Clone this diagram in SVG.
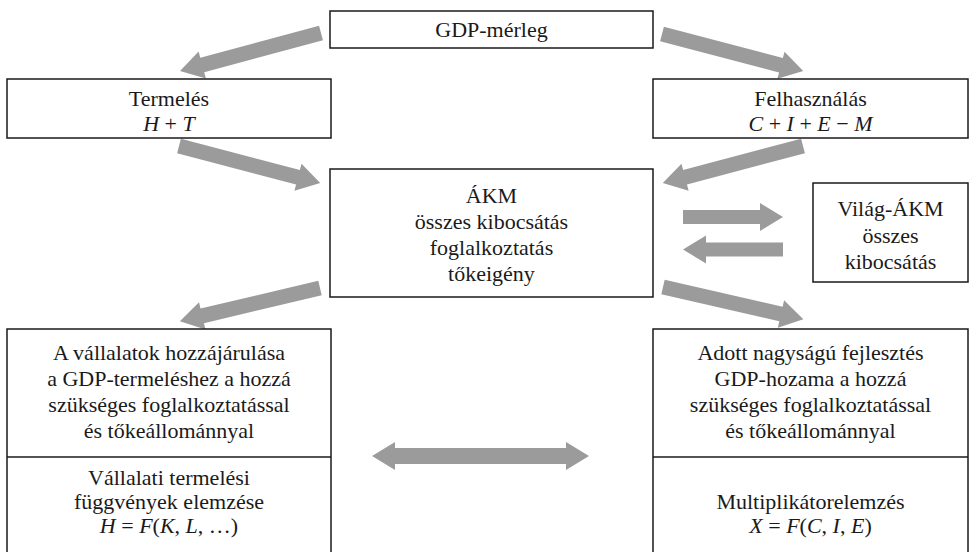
<svg xmlns="http://www.w3.org/2000/svg" width="969" height="552" viewBox="0 0 969 552">
<style>
.box{fill:#fff;stroke:#1a1a1a;stroke-width:1.5}
.t{font-family:"Liberation Serif","Times New Roman",serif;font-size:22px;fill:#1a1a1a;text-anchor:middle}
.i{font-style:italic}
.arr{fill:#9b9b9b}
</style>
<g id="connectors">
<polygon class="arr" points="0,-7.5 123,-7.5 123,-14 146,0 123,14 123,7.5 0,7.5" transform="translate(321,33) rotate(164.9)"/>
<polygon class="arr" points="0,-7.5 123,-7.5 123,-14 146,0 123,14 123,7.5 0,7.5" transform="translate(662,34) rotate(14.7)"/>
<polygon class="arr" points="0,-7.5 123,-7.5 123,-14 146,0 123,14 123,7.5 0,7.5" transform="translate(179,146) rotate(14.7)"/>
<polygon class="arr" points="0,-7.5 122,-7.5 122,-14 145,0 122,14 122,7.5 0,7.5" transform="translate(803,146) rotate(165.2)"/>
<polygon class="arr" points="0,-7.5 121,-7.5 121,-14 144,0 121,14 121,7.5 0,7.5" transform="translate(320,288) rotate(166.7)"/>
<polygon class="arr" points="0,-7.5 121,-7.5 121,-14 144,0 121,14 121,7.5 0,7.5" transform="translate(663,287) rotate(12.9)"/>
<polygon class="arr" points="683,210 760,210 760,203 783,217 760,231 760,224 683,224"/>
<polygon class="arr" points="783,242.5 706,242.5 706,235.5 683,249.5 706,263.5 706,256.5 783,256.5"/>
<polygon class="arr" points="372,456 395,442 395,448 566,448 566,442 589,456 566,470 566,464 395,464 395,470"/>
</g>
<g id="gdp">
<rect class="box" x="330" y="11" width="323" height="37"/>
<text class="t" x="491.5" y="37">GDP-mérleg</text>
</g>
<g id="termeles">
<rect class="box" x="7" y="79" width="324" height="59"/>
<text class="t" x="169" y="106">Termelés</text>
<text class="t" x="169" y="131"><tspan class="i">H</tspan> + <tspan class="i">T</tspan></text>
</g>
<g id="felhasznalas">
<rect class="box" x="653" y="79" width="315" height="59"/>
<text class="t" x="810.5" y="106">Felhasználás</text>
<text class="t" x="810.5" y="131"><tspan class="i">C</tspan> + <tspan class="i">I</tspan> + <tspan class="i">E</tspan> − <tspan class="i">M</tspan></text>
</g>
<g id="akm">
<rect class="box" x="330" y="169" width="323" height="128"/>
<text class="t" x="491.5" y="203">ÁKM</text>
<text class="t" x="491.5" y="229">összes kibocsátás</text>
<text class="t" x="491.5" y="255">foglalkoztatás</text>
<text class="t" x="491.5" y="281">tőkeigény</text>
</g>
<g id="vilag">
<rect class="box" x="813" y="183" width="155" height="99"/>
<text class="t" x="890.5" y="216">Világ-ÁKM</text>
<text class="t" x="890.5" y="243">összes</text>
<text class="t" x="890.5" y="269">kibocsátás</text>
</g>
<g id="vallalatok">
<rect class="box" x="7" y="329" width="324" height="240"/>
<line class="box" x1="7" y1="457" x2="331" y2="457"/>
<text class="t" x="169" y="360">A vállalatok hozzájárulása</text>
<text class="t" x="169" y="386">a GDP-termeléshez a hozzá</text>
<text class="t" x="169" y="412">szükséges foglalkoztatással</text>
<text class="t" x="169" y="438">és tőkeállománnyal</text>
<text class="t" x="169" y="485">Vállalati termelési</text>
<text class="t" x="169" y="509">függvények elemzése</text>
<text class="t" x="169" y="533"><tspan class="i">H</tspan> = <tspan class="i">F</tspan>(<tspan class="i">K</tspan>, <tspan class="i">L</tspan>, …)</text>
</g>
<g id="fejlesztes">
<rect class="box" x="653" y="329" width="315" height="240"/>
<line class="box" x1="653" y1="457" x2="968" y2="457"/>
<text class="t" x="810.5" y="360">Adott nagyságú fejlesztés</text>
<text class="t" x="810.5" y="386">GDP-hozama a hozzá</text>
<text class="t" x="810.5" y="412">szükséges foglalkoztatással</text>
<text class="t" x="810.5" y="438">és tőkeállománnyal</text>
<text class="t" x="810.5" y="509">Multiplikátorelemzés</text>
<text class="t" x="810.5" y="533"><tspan class="i">X</tspan> = <tspan class="i">F</tspan>(<tspan class="i">C</tspan>, <tspan class="i">I</tspan>, <tspan class="i">E</tspan>)</text>
</g>
</svg>
